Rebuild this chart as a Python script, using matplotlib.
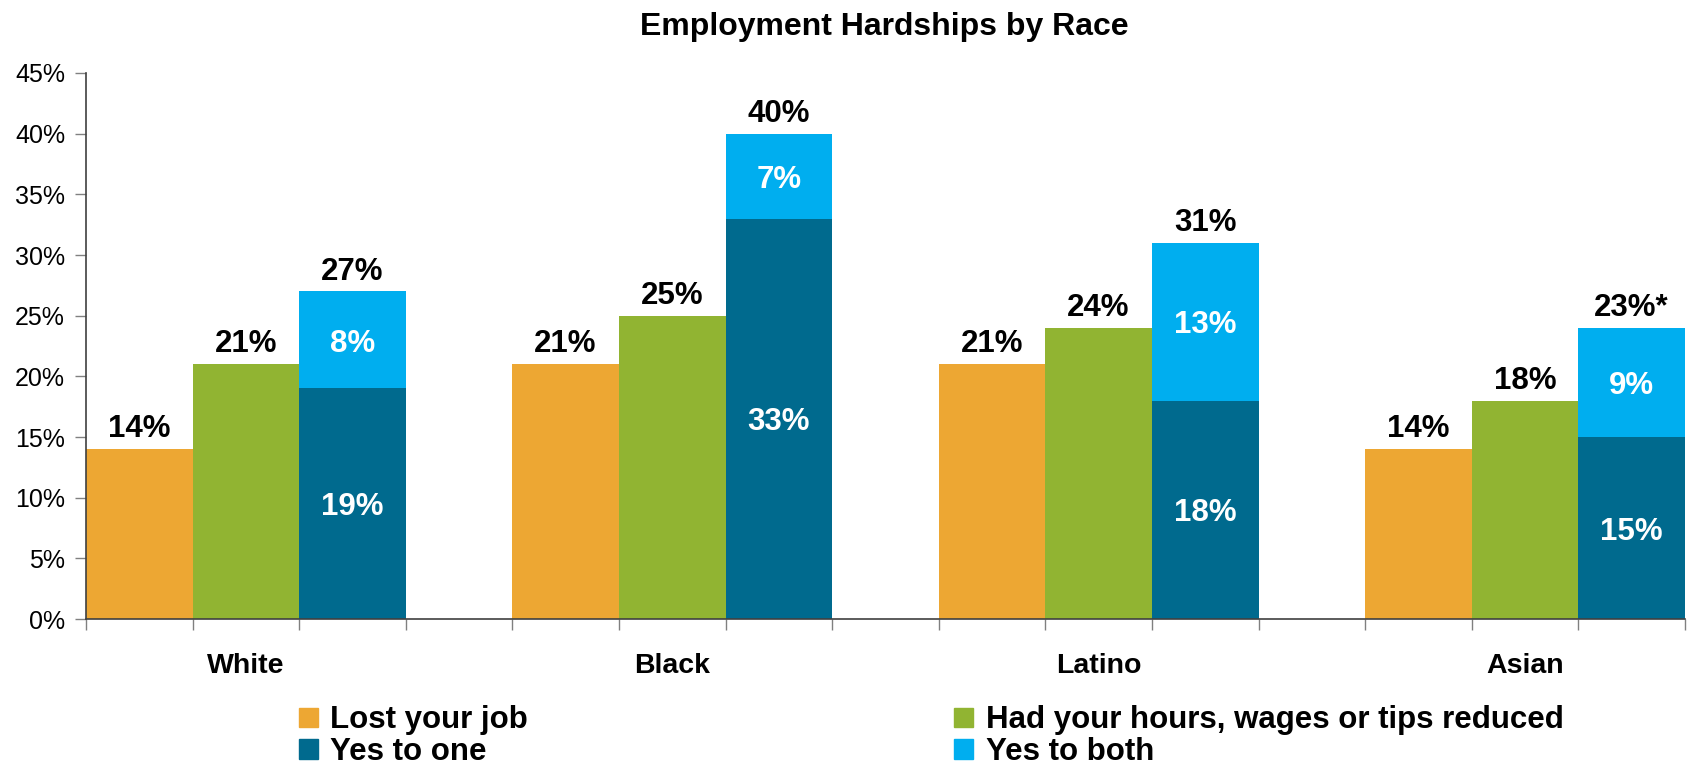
import numpy as np
import matplotlib
matplotlib.use("Agg")
import matplotlib.pyplot as plt
from matplotlib.patches import Patch

plt.rcParams['font.family'] = ['Liberation Sans', 'DejaVu Sans']

races = ['White', 'Black', 'Latino', 'Asian']
lost_job = [14, 21, 21, 14]
hours_cut = [21, 25, 24, 18]
yes_one = [19, 33, 18, 15]
yes_both = [8, 7, 13, 9]
total_labels = ['27%', '40%', '31%', '23%*']

c_lost = '#EDA733'
c_hours = '#91B432'
c_one = '#006A8E'
c_both = '#00AEEF'

fig = plt.figure(figsize=(16.98, 7.66), dpi=100)
ax = fig.add_axes([0.0506, 0.1919, 0.9417, 0.7128])

x = np.arange(len(races))
w = 0.25
ax.bar(x - w, lost_job, w, color=c_lost)
ax.bar(x, hours_cut, w, color=c_hours)
ax.bar(x + w, yes_one, w, color=c_one)
ax.bar(x + w, yes_both, w, bottom=yes_one, color=c_both)

# value labels: totals above, segment shares inside the stacked bar
lab = dict(fontsize=22.5, fontweight='bold', ha='center')
for i in range(len(races)):
    ax.text(x[i] - w, lost_job[i] + 0.4, '%d%%' % lost_job[i], va='bottom', **lab)
    ax.text(x[i], hours_cut[i] + 0.4, '%d%%' % hours_cut[i], va='bottom', **lab)
    top = yes_one[i] + yes_both[i]
    ax.text(x[i] + w, top + 0.4, total_labels[i], va='bottom', **lab)
    ax.text(x[i] + w, yes_one[i] / 2 - 0.3, '%d%%' % yes_one[i], va='center', color='white', **lab)
    ax.text(x[i] + w, yes_one[i] + yes_both[i] / 2 - 0.3, '%d%%' % yes_both[i], va='center',
            color='white', **lab)

ax.set_xlim(-1.5 * w, len(races) - 1 + 1.5 * w)
ax.set_ylim(0, 45)
ax.set_yticks(range(0, 46, 5))
ax.set_yticklabels(['%d%%' % v for v in range(0, 46, 5)], fontsize=18)
ax.set_xticks(np.arange(-1.5 * w, len(races) - 1 + 1.5 * w + 0.01, w))
ax.set_xticklabels([])
ax.tick_params(axis='y', length=8, width=1, color='#808080', pad=7)
ax.tick_params(axis='x', length=8, width=1, color='#808080')
for i, r in enumerate(races):
    ax.text(x[i], -3.85, r, fontsize=20.5, fontweight='bold', ha='center', va='center')

for s in ['top', 'right']:
    ax.spines[s].set_visible(False)
for s in ['left', 'bottom']:
    ax.spines[s].set_color('#404040')
    ax.spines[s].set_linewidth(1.2)

fig.text(0.521, 0.965, 'Employment Hardships by Race', fontsize=23, fontweight='bold',
         ha='center', va='center')

leg_kw = dict(frameon=False, prop={'size': 22.5, 'weight': 'bold'}, handlelength=0.6,
              handleheight=0.6, handletextpad=0.4, labelspacing=0.05, borderpad=0,
              borderaxespad=0)
fig.legend([Patch(color=c_lost), Patch(color=c_one)], ['Lost your job', 'Yes to one'],
           loc='upper left', bbox_to_anchor=(0.176, 0.079), **leg_kw)
fig.legend([Patch(color=c_hours), Patch(color=c_both)],
           ['Had your hours, wages or tips reduced', 'Yes to both'],
           loc='upper left', bbox_to_anchor=(0.562, 0.079), **leg_kw)

fig.savefig('out.png', dpi=100)
